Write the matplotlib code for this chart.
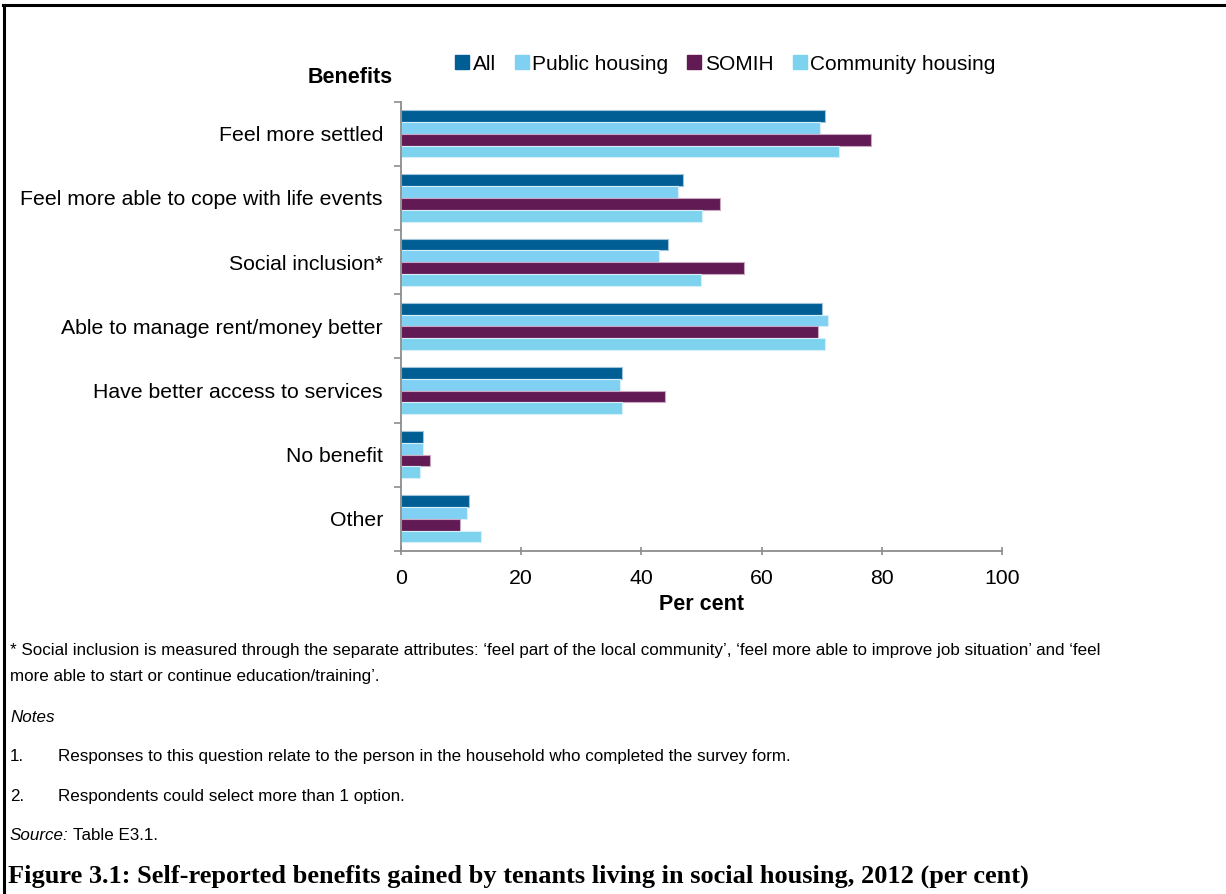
import matplotlib
matplotlib.use("Agg")
import matplotlib.pyplot as plt
from matplotlib.lines import Line2D
import numpy as np

plt.rcParams['font.family'] = ['Liberation Sans', 'DejaVu Sans']

categories = [
    "Feel more settled",
    "Feel more able to cope with life events",
    "Social inclusion*",
    "Able to manage rent/money better",
    "Have better access to services",
    "No benefit",
    "Other",
]
series_names = ["All", "Public housing", "SOMIH", "Community housing"]
all_vals = [70.5, 46.9, 44.4, 70.0, 36.7, 3.6, 11.3]
public_vals = [69.8, 46.1, 43.0, 71.0, 36.4, 3.7, 11.0]
somih_vals = [78.2, 53.1, 57.0, 69.4, 44.0, 4.9, 9.9]
community_vals = [72.9, 50.0, 49.9, 70.5, 36.7, 3.2, 13.3]
colors = ["#005E94", "#80D0F4", "#621A55", "#7DD2EE"]
x_ticks = [0, 20, 40, 60, 80, 100]

W, H = 1226, 894
fig = plt.figure(figsize=(W / 100, H / 100), dpi=100)

ax = fig.add_axes([401 / W, 1 - 551 / H, 601 / W, (551 - 101.7) / H])

series = [all_vals, public_vals, somih_vals, community_vals]
y = np.arange(len(categories))
h = 0.1835
offsets = [-1.5 * h, -0.5 * h, 0.5 * h, 1.5 * h]
edge = ["#9fc3da", "#d6f0fb", "#c9a8c2", "#d6f0fb"]
for vals, off, c, ec in zip(series, offsets, colors, edge):
    ax.barh(y + off, vals, height=h, color=c, edgecolor=ec, linewidth=0.8)

label_fs = 15.3
ax.set_xlim(0, 100)
ax.set_ylim(len(categories) - 0.5, -0.5)
ax.set_xticks(x_ticks)
ax.set_xticklabels([str(t) for t in x_ticks], fontsize=label_fs)
ax.set_yticks(y)
ax.set_yticklabels(categories, fontsize=label_fs)
ax.set_yticks(np.arange(-0.5, len(categories), 1.0), minor=True)
ax.tick_params(axis='y', which='major', length=0, pad=13)
ax.tick_params(axis='y', which='minor', length=5, width=1.2, color="#8c8c8c", direction='out')
ax.tick_params(axis='x', length=6, width=1.2, color="#8c8c8c", direction='inout', pad=10)

for s in ["top", "right"]:
    ax.spines[s].set_visible(False)
for s in ["left", "bottom"]:
    ax.spines[s].set_color("#8c8c8c")
    ax.spines[s].set_linewidth(1.3)

ax.set_xlabel("Per cent", fontsize=15.5, fontweight="bold", labelpad=4)

fig.text(393 / W, 1 - 75 / H, "Benefits", fontsize=15.5, fontweight="bold",
         ha="right", va="center_baseline")

handles = [Line2D([], [], marker="s", linestyle="none", markersize=9.5,
                  markerfacecolor=c, markeredgecolor=c) for c in colors]
fig.legend(handles, series_names, loc="center left",
           bbox_to_anchor=(455 / W, 1 - 64 / H), ncol=4, frameon=False,
           fontsize=15, handlelength=0.7, handletextpad=0.15,
           columnspacing=0.9, borderaxespad=0, borderpad=0)

# frame around the figure panel
fig.add_artist(Line2D([4 / W, 4 / W], [0, 1 - 5 / H], transform=fig.transFigure,
                      color="black", linewidth=2.2))
fig.add_artist(Line2D([3 / W, 1], [1 - 5 / H, 1 - 5 / H], transform=fig.transFigure,
                      color="black", linewidth=2.2))

note_fs = 12.25
va = "center_baseline"
fig.text(10 / W, 1 - 649 / H,
         "* Social inclusion is measured through the separate attributes: \u2018feel part of the local community\u2019, "
         "\u2018feel more able to improve job situation\u2019 and \u2018feel",
         fontsize=note_fs, va=va)
fig.text(10 / W, 1 - 675 / H, "more able to start or continue education/training\u2019.",
         fontsize=note_fs, va=va)
fig.text(10 / W, 1 - 716 / H, "Notes", fontsize=note_fs, style="italic", va=va)
fig.text(10 / W, 1 - 755 / H, "1.", fontsize=note_fs, va=va)
fig.text(58 / W, 1 - 755 / H,
         "Responses to this question relate to the person in the household who completed the survey form.",
         fontsize=note_fs, va=va)
fig.text(10 / W, 1 - 795 / H, "2.", fontsize=note_fs, va=va)
fig.text(58 / W, 1 - 795 / H, "Respondents could select more than 1 option.",
         fontsize=note_fs, va=va)
src = fig.text(10 / W, 1 - 834 / H, "Source:", fontsize=note_fs, style="italic", va=va)
fig.canvas.draw()
bb = src.get_window_extent()
fig.text((bb.x1 + 4) / W, 1 - 834 / H, "Table E3.1.", fontsize=note_fs, va=va)

fig.text(8 / W, 1 - 874 / H,
         "Figure 3.1: Self-reported benefits gained by tenants living in social housing, 2012 (per cent)",
         fontsize=19, fontweight="bold", family=["Liberation Serif", "DejaVu Serif"],
         va=va)

fig.savefig("out.png", dpi=100)
